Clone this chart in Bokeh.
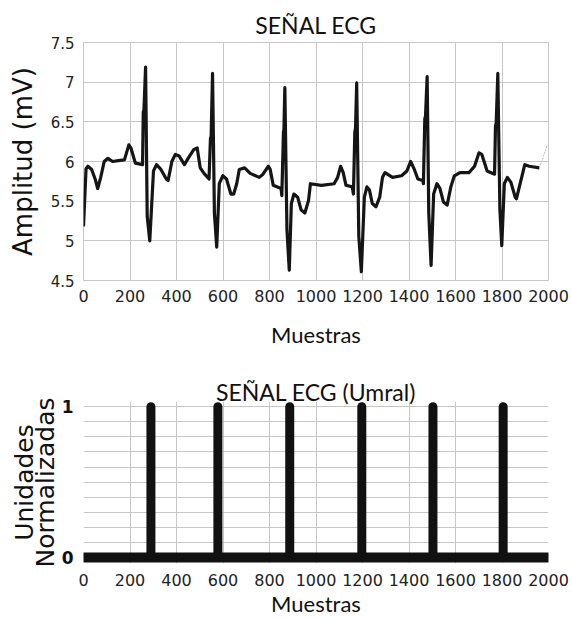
from bokeh.plotting import figure
from bokeh.layouts import column
from bokeh.models import FixedTicker
from bokeh.embed import file_html
from bokeh.resources import INLINE

# ---- data ----
ecg_x = [0, 11, 19, 35, 50, 61, 74, 89, 105, 125, 150, 176, 195, 204, 223, 254,
         257, 260, 267, 274, 285, 301, 314, 333, 356, 364, 380, 395, 411, 434, 450,
         474, 489, 502, 521, 540, 546, 549, 555, 563, 573, 584, 599, 615, 634, 646,
         659, 670, 693, 717, 756, 772, 795, 803, 816, 850, 853, 860, 862, 866, 875,
         885, 894, 905, 921, 936, 952, 968, 976, 1023, 1078, 1093, 1106, 1117, 1129,
         1156, 1161, 1167, 1170, 1175, 1184, 1195, 1208, 1219, 1230, 1242, 1258, 1274,
         1286, 1297, 1329, 1368, 1391, 1407, 1423, 1438, 1459, 1462, 1468, 1471, 1478,
         1485, 1495, 1506, 1520, 1533, 1548, 1564, 1580, 1595, 1619, 1658, 1682, 1701,
         1713, 1736, 1768, 1772, 1775, 1782, 1791, 1799, 1810, 1823, 1838, 1857, 1862,
         1878, 1898, 1917, 1961]
ecg_y = [5.18, 5.91, 5.94, 5.90, 5.78, 5.66, 5.80, 6.00, 6.04, 6.00, 6.01, 6.02, 6.21, 6.17, 5.98, 5.96,
         6.62, 6.65, 7.19, 5.31, 5.00, 5.88, 5.96, 5.90, 5.78, 5.76, 6.00, 6.09, 6.07, 5.96, 6.04,
         6.15, 6.17, 5.92, 5.84, 5.78, 6.29, 6.32, 7.11, 5.35, 4.92, 5.72, 5.82, 5.78, 5.59, 5.59,
         5.72, 5.90, 5.92, 5.85, 5.80, 5.84, 5.94, 5.90, 5.70, 5.66, 5.57, 6.37, 6.40, 6.93, 5.14,
         4.63, 5.47, 5.59, 5.55, 5.39, 5.35, 5.51, 5.72, 5.70, 5.72, 5.80, 5.94, 5.86, 5.70,
         5.68, 5.59, 6.37, 6.42, 6.99, 5.06, 4.61, 5.55, 5.68, 5.64, 5.47, 5.43, 5.55,
         5.80, 5.86, 5.80, 5.82, 5.88, 6.00, 5.90, 5.78, 5.76, 5.72, 6.54, 6.57, 7.07,
         5.35, 4.69, 5.59, 5.72, 5.66, 5.49, 5.45, 5.68, 5.82, 5.86, 5.86, 5.94, 6.11,
         6.09, 5.88, 5.84, 6.45, 6.48, 7.11, 5.39, 4.94, 5.72, 5.80, 5.74, 5.55, 5.53,
         5.72, 5.96, 5.94, 5.92]
tail_x = [1961, 1995]
tail_y = [5.92, 6.21]

pulse_x = [290, 578, 887, 1197, 1503, 1805]
base_x = [0, 2000]
base_y = [0, 0]

x_ticks = [0, 200, 400, 600, 800, 1000, 1200, 1400, 1600, 1800, 2000]
y1_ticks = [4.5, 5, 5.5, 6, 6.5, 7, 7.5]
y1_labels = {4.5: "4.5", 5: "5", 5.5: "5.5", 6: "6", 6.5: "6.5", 7: "7", 7.5: "7.5"}
y2_grid = [0, 0.1, 0.2, 0.3, 0.4, 0.5, 0.6, 0.7, 0.8, 0.9, 1.0]
y2_ticks = [0, 1]

NARROW = "'Liberation Sans Narrow', Lato, sans-serif"
SANS = "DejaVu Sans"
GRID = "#c6c6c6"


def style_axis(ax):
    ax.axis_line_color = None
    ax.major_tick_line_color = None
    ax.minor_tick_line_color = None
    ax.major_tick_out = 0
    ax.minor_tick_out = 0
    ax.major_label_text_font = SANS
    ax.major_label_text_color = "#222222"
    ax.axis_label_text_font_style = "normal"
    ax.axis_label_text_color = "#111111"


# ---- top chart ----
p1 = figure(width=572, height=350, x_range=(0, 2000), y_range=(4.5, 7.5),
            output_backend="svg", toolbar_location=None,
            min_border_left=83, min_border_right=24, min_border_top=42, min_border_bottom=67)
p1.title.text = "SEÑAL ECG"
p1.title.align = "center"
p1.title.text_font = NARROW
p1.title.text_font_size = "23px"
p1.title.text_font_style = "normal"
p1.title.text_color = "#111111"
p1.title.standoff = 7

p1.line(ecg_x, ecg_y, line_width=3.2, line_color="#151515", line_join="round")
p1.line(tail_x, tail_y, line_width=1, line_color="#bbbbbb", line_dash="2 1")

p1.outline_line_color = GRID
p1.xgrid.ticker = FixedTicker(ticks=x_ticks)
p1.ygrid.ticker = FixedTicker(ticks=y1_ticks)
p1.grid.grid_line_color = GRID
p1.grid.grid_line_width = 1

p1.xaxis.ticker = FixedTicker(ticks=x_ticks)
p1.yaxis.ticker = FixedTicker(ticks=y1_ticks)
p1.yaxis.major_label_overrides = y1_labels
p1.xaxis.axis_label = "Muestras"
p1.yaxis.axis_label = "Amplitud (mV)"
style_axis(p1.xaxis)
style_axis(p1.yaxis)
p1.xaxis.major_label_text_font_size = "16px"
p1.yaxis.major_label_text_font_size = "15px"
p1.xaxis.major_label_standoff = 9
p1.yaxis.major_label_standoff = 9
p1.xaxis.axis_label_text_font = NARROW
p1.xaxis.axis_label_text_font_size = "22px"
p1.xaxis.axis_label_standoff = 16
p1.yaxis.axis_label_text_font = SANS
p1.yaxis.axis_label_text_font_size = "26px"
p1.yaxis.axis_label_text_line_height = 1.0
p1.yaxis.axis_label_standoff = 10

# ---- bottom chart ----
p2 = figure(width=572, height=270, x_range=(0, 2000), y_range=(-0.04, 1.035),
            output_backend="svg", toolbar_location=None,
            min_border_left=83, min_border_right=24, min_border_top=51, min_border_bottom=57)
p2.title.text = "SEÑAL ECG (Umral)"
p2.title.align = "center"
p2.title.text_font = NARROW
p2.title.text_font_size = "23px"
p2.title.text_font_style = "normal"
p2.title.text_color = "#111111"
p2.title.standoff = -9

p2.outline_line_color = None
p2.xgrid.ticker = FixedTicker(ticks=x_ticks)
p2.ygrid.ticker = FixedTicker(ticks=y2_grid)
p2.grid.grid_line_color = GRID
p2.grid.grid_line_width = 1

p2.segment(x0=pulse_x, y0=[0] * len(pulse_x), x1=pulse_x, y1=[1] * len(pulse_x),
           line_width=9, line_color="#111111", line_cap="round")
p2.line(base_x, base_y, line_width=10, line_color="#111111", line_cap="round")

p2.xaxis.ticker = FixedTicker(ticks=x_ticks)
p2.yaxis.ticker = FixedTicker(ticks=y2_ticks)
p2.xaxis.axis_label = "Muestras"
p2.yaxis.axis_label = "Unidades\nNormalizadas"
style_axis(p2.xaxis)
style_axis(p2.yaxis)
p2.xaxis.major_label_text_font_size = "16px"
p2.xaxis.major_label_standoff = 10
p2.yaxis.major_label_text_font_size = "17px"
p2.yaxis.major_label_text_font_style = "bold"
p2.yaxis.major_label_text_color = "#111111"
p2.yaxis.major_label_standoff = 10
p2.xaxis.axis_label_text_font = NARROW
p2.xaxis.axis_label_text_font_size = "22px"
p2.xaxis.axis_label_standoff = 1
p2.yaxis.axis_label_text_font = SANS
p2.yaxis.axis_label_text_font_size = "25px"
p2.yaxis.axis_label_text_line_height = 0.7
p2.yaxis.axis_label_standoff = -1

layout = column(p1, p2, spacing=0)
open("out.html", "w").write(file_html(layout, INLINE))
